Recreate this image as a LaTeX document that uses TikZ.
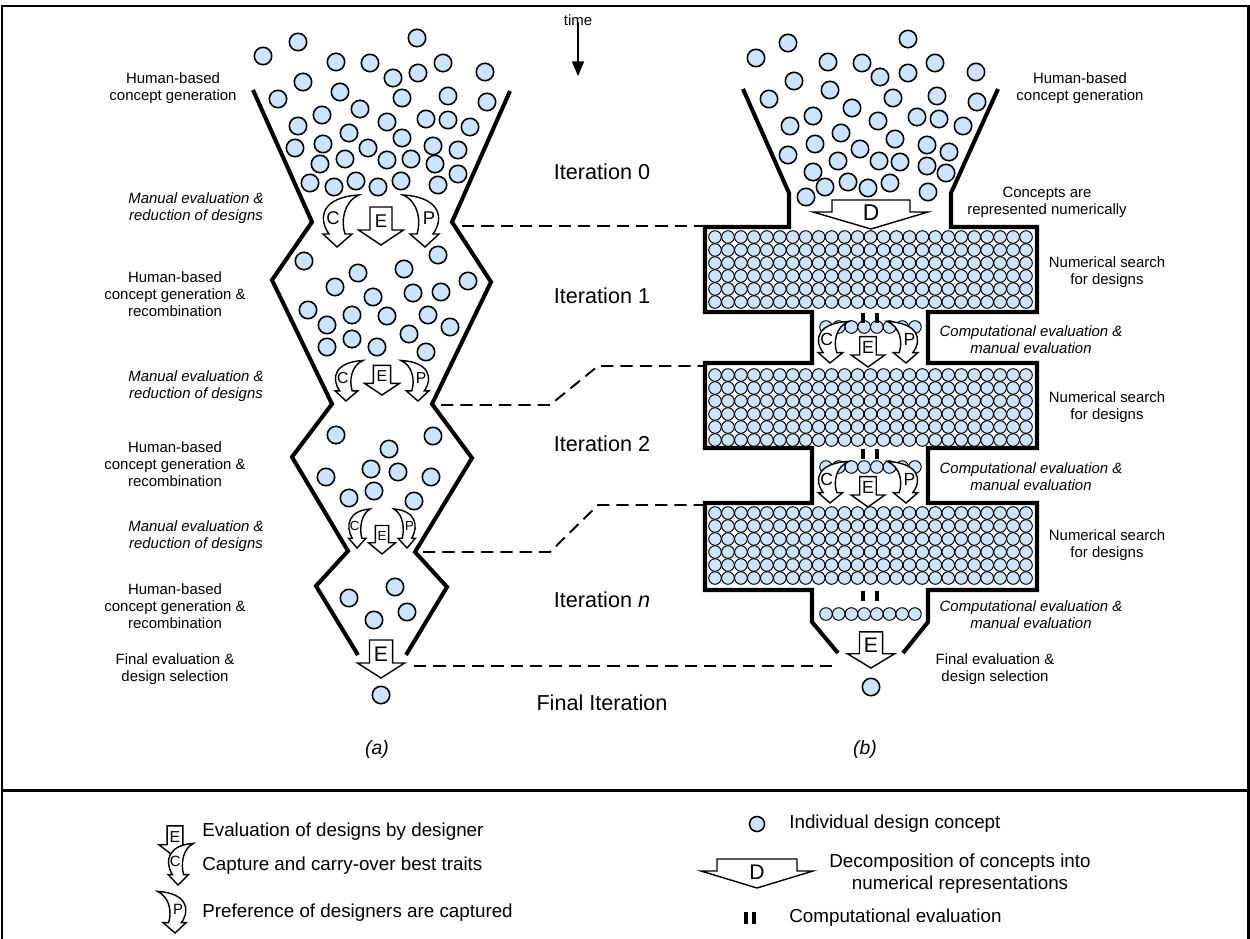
\documentclass[tikz,border=0pt]{standalone}
\usepackage{fontspec}
\setmainfont{Liberation Sans}
\usetikzlibrary{arrows,calc}
\definecolor{conceptblue}{RGB}{204,228,255}
\tikzset{
  concept/.style = {draw=black, fill=conceptblue, line width=0.9pt},
  gridpt/.style = {draw=black, fill=conceptblue, line width=0.55pt},
  wall/.style = {line width=2.3pt, line join=miter},
  evalarrow/.style = {draw=black, fill=white, line width=0.8pt, line join=miter},
  phase/.style = {align=center, inner sep=0pt, font=\fontsize{8.5}{9.7}\selectfont},
  phaseit/.style = {phase, font=\fontsize{8.5}{9.7}\selectfont\itshape},
  iter/.style = {inner sep=0pt, font=\fontsize{12.3}{14}\selectfont},
  letter/.style = {inner sep=0pt},
  link/.style = {line width=1.1pt, dash pattern=on 7pt off 4pt},
  legtext/.style = {anchor=west, inner sep=0pt, font=\fontsize{10.7}{12}\selectfont}
}
% straight evaluation arrow: tip, xscale, yscale, name, font size
\newcommand{\evalE}[5]{%
  \begin{scope}[shift={#1}, xscale=#2, yscale=#3]
    \draw[evalarrow] (0,0) -- (-22.5,-15) -- (-11,-15) -- (-11,-38) -- (11,-38)
      -- (11,-15) -- (22.5,-15) -- cycle;
    \node[letter, font=\fontsize{#5}{#5}\selectfont] (#4) at (0,-24) {E};
  \end{scope}}
% bent arrow (C, or P when mirrored): tip, xscale, yscale, letter, name, font size
\newcommand{\bentarrow}[6]{%
  \begin{scope}[shift={#1}, xscale=#2, yscale=#3]
    \draw[evalarrow] (0,0) -- (-14,-13) -- (-8,-13)
      .. controls (-20,-30) and (-14,-50) .. (22,-52)
      .. controls (6,-45) and (4,-25) .. (8,-13) -- (15,-13) -- cycle;
    \node[letter, font=\fontsize{#6}{#6}\selectfont] (#5) at (-4,-29) {#4};
  \end{scope}}

\begin{document}
\begin{tikzpicture}[x=0.02cm, y=-0.02cm]
\useasboundingbox (0,0) rectangle (1250,939);

% frame and legend divider
\draw[line width=1.7pt] (2,939) -- (2,6) -- (1248,6) -- (1248,939);
\draw[line width=1.7pt] (2,790) -- (1248,790);

% time axis
\node[inner sep=0pt, font=\fontsize{8.5}{10}\selectfont] (time) at (578,20) {time};
\draw[-triangle 45, line width=0.9pt] (time.south) ++(0,-4) -- (578,76);

% ---------- (a) funnel ----------
\draw[wall] (253,90) -- (312,222) -- (272,280) -- (332,404) -- (292,457)
  -- (348,551) -- (316,586) -- (358,655);
\draw[wall] (510,91) -- (452,222) -- (491,282) -- (432,404) -- (472,458)
  -- (415,552) -- (447,587) -- (406,655);

\foreach \x/\y in {263/56,298/42,417/38,336/62,370/63,393/78,418/73,443/63,485/72,
  303/82,340/92,278/99,402/98,448/96,487/102,322/115,360/109,387/122,426/119,
  448/120,470/127,298/126,349/133,402/138,295/148,323/144,368/148,433/146,
  458/150,320/164,345/159,387/160,411/159,435/164,458/174,310/183,334/187,
  356/181,378/187,401/181,438/185}
  \draw[concept] (\x,\y) circle (8.7);
\foreach \x/\y in {304/261,438/255,358/273,404/269,468/281,335/287,373/297,
  413/293,441/292,308/310,352/315,387/316,428/315,327/325,450/327,409/334,
  327/347,352/339,377/347,426/352}
  \draw[concept] (\x,\y) circle (8.7);
\foreach \x/\y in {336/435,433/436,389/449,371/469,398/472,326/477,431/477,
  349/498,374/491,414/501}
  \draw[concept] (\x,\y) circle (8.7);
\foreach \x/\y in {349/598,395/587,374/620,407/612}
  \draw[concept] (\x,\y) circle (8.7);
\draw[concept] (381,695) circle (8.7);

\bentarrow{(337,247)}{1}{1}{C}{c0a}{10.5}
\evalE{(381,245)}{1}{1}{e0a}{10.5}
\bentarrow{(425,247)}{-1}{1}{P}{p0a}{10.5}
\bentarrow{(346,401)}{0.78}{0.78}{C}{c1a}{9}
\evalE{(382,395)}{0.78}{0.78}{e1a}{9}
\bentarrow{(418,401)}{-0.78}{0.78}{P}{p1a}{9}
\bentarrow{(357,548)}{0.6}{0.75}{C}{c2a}{7.5}
\evalE{(382,554)}{0.6}{0.75}{e2a}{7.5}
\bentarrow{(407,548)}{-0.6}{0.75}{P}{p2a}{7.5}
\evalE{(381,678)}{1.05}{1}{efa}{12}

% ---------- (b) funnel ----------
\draw[wall] (743,89) -- (789,193) -- (789,227) -- (705,227) -- (705,312)
  -- (812,312) -- (812,363) -- (705,363) -- (705,448) -- (812,448)
  -- (812,503) -- (705,503) -- (705,590) -- (812,590) -- (812,622) -- (838,653);
\draw[wall] (998,89) -- (951,193) -- (951,227) -- (1037,227) -- (1037,312)
  -- (928,312) -- (928,363) -- (1037,363) -- (1037,448) -- (928,448)
  -- (928,503) -- (1037,503) -- (1037,590) -- (928,590) -- (928,622) -- (903,653);

\foreach \x/\y in {756/58,788/43,908/39,828/62,862/63,880/77,908/73,935/63,
  976/72,794/81,830/90,769/99,893/98,937/96,977/102,813/116,852/108,878/121,
  917/117,939/119,963/126,790/126,841/133,895/139,788/155,815/144,860/149,
  927/145,949/152,813/172,838/161,879/161,900/162,927/166,946/173,806/197,
  825/187,848/182,868/188,890/183,928/192}
  \draw[concept] (\x,\y) circle (8.7);

% numerical search blocks
\foreach \y in {237,375,513}
  \foreach \r in {0,...,5}
    \foreach \c in {0,...,24}
      \draw[gridpt] ({715+12.96*\c},{\y+13*\r}) circle (6.3);
% evaluated rows in the necks
\foreach \y in {327,467,614}
  \foreach \c in {0,...,7}
    \draw[gridpt] ({826+12.7*\c},\y) circle (6.3);
% computational evaluation marks
\foreach \y in {313,449,591}{
  \draw[line width=1.8pt] (863,\y) -- (863,\y+10);
  \draw[line width=1.8pt] (877,\y) -- (877,\y+10);
}

\draw[evalarrow] (871,229) -- (813,212) -- (832,212) -- (832,200) -- (910,200)
  -- (910,212) -- (928,212) -- cycle;
\node[letter, font=\fontsize{13}{13}\selectfont] (d0b) at (871,213) {D};

\bentarrow{(830,363)}{0.85}{0.8}{C}{c1b}{10}
\evalE{(868,367)}{0.75}{0.8}{e1b}{10}
\bentarrow{(906,363)}{-0.85}{0.8}{P}{p1b}{10}
\bentarrow{(830,503)}{0.85}{0.8}{C}{c2b}{10}
\evalE{(868,507)}{0.75}{0.8}{e2b}{10}
\bentarrow{(906,503)}{-0.85}{0.8}{P}{p2b}{10}
\evalE{(871,668)}{1.05}{0.95}{efb}{12}
\draw[concept] (871,687) circle (8.7);

% iteration boundaries
\coordinate (l0) at (462,226);
\coordinate (r0) at (703,226);
\coordinate (l1) at (441,405);
\coordinate (k1) at (550,405);
\coordinate (m1) at (598,366);
\coordinate (r1) at (703,366);
\coordinate (l2) at (423,552);
\coordinate (k2) at (550,552);
\coordinate (m2) at (598,505);
\coordinate (r2) at (703,505);
\coordinate (l3) at (414,666);
\coordinate (r3) at (836,666);
\draw[link] (l0) -- (r0);
\draw[link] (l1) -- (k1) -- (m1) -- (r1);
\draw[link] (l2) -- (k2) -- (m2) -- (r2);
\draw[link] (l3) -- (r3);

% stage labels
\node[iter] (it0) at (602,172) {Iteration 0};
\node[iter] (it1) at (602,296) {Iteration 1};
\node[iter] (it2) at (602,444) {Iteration 2};
\node[iter] (itn) at (602,600) {Iteration {\itshape n}};
\node[iter] (itf) at (602,703) {Final Iteration};

\node[phase] (gen0a) at (173,88) {Human-based\\concept generation};
\node[phaseit] (red0a) at (196,208) {Manual evaluation \&\\reduction of designs};
\node[phase] (gen1a) at (175,294) {Human-based\\concept generation \&\\recombination};
\node[phaseit] (red1a) at (196,386) {Manual evaluation \&\\reduction of designs};
\node[phase] (gen2a) at (175,464) {Human-based\\concept generation \&\\recombination};
\node[phaseit] (red2a) at (196,536) {Manual evaluation \&\\reduction of designs};
\node[phase] (gen3a) at (175,606) {Human-based\\concept generation \&\\recombination};
\node[phase] (fina) at (175,669) {Final evaluation \&\\design selection};

\node[phase] (gen0b) at (1080,88) {Human-based\\concept generation};
\node[phase] (decb) at (1047,202) {Concepts are\\represented numerically};
\node[phase] (num1b) at (1107,272) {Numerical search\\for designs};
\node[phaseit] (cmp1b) at (1031,340) {Computational evaluation \&\\manual evaluation};
\node[phase] (num2b) at (1107,407) {Numerical search\\for designs};
\node[phaseit] (cmp2b) at (1031,477) {Computational evaluation \&\\manual evaluation};
\node[phase] (num3b) at (1107,545) {Numerical search\\for designs};
\node[phaseit] (cmp3b) at (1031,615) {Computational evaluation \&\\manual evaluation};
\node[phase] (finb) at (995,669) {Final evaluation \&\\design selection};

\node[iter, font=\fontsize{11}{13}\selectfont\itshape] (capa) at (377,749) {(a)};
\node[iter, font=\fontsize{11}{13}\selectfont\itshape] (capb) at (865,749) {(b)};

% ---------- legend ----------
\evalE{(175,857)}{0.72}{0.82}{legE}{9}
\node[legtext] (legEt) at (202,832) {Evaluation of designs by designer};
\bentarrow{(178,885)}{0.7}{0.8}{C}{legC}{8.5}
\node[legtext] (legCt) at (202,866) {Capture and carry-over best traits};
\bentarrow{(175,933)}{-0.8}{0.8}{P}{legP}{8.5}
\node[legtext] (legPt) at (202,913) {Preference of designers are captured};

\draw[concept] (757,824) circle (7.5);
\node[legtext] (legOt) at (789,824) {Individual design concept};
\draw[evalarrow] (757,888) -- (701,871) -- (717,871) -- (717,859) -- (797,859)
  -- (797,871) -- (813,871) -- cycle;
\node[letter, font=\fontsize{12}{12}\selectfont] (legD) at (757,872) {D};
\node[phase, font=\fontsize{10.7}{12.4}\selectfont] (legDt) at (960,874)
  {Decomposition of concepts into\\numerical representations};
\draw[line width=1.8pt] (746,912) -- (746,924);
\draw[line width=1.8pt] (754,912) -- (754,924);
\node[legtext] (legIt) at (789,918) {Computational evaluation};
\end{tikzpicture}
\end{document}
